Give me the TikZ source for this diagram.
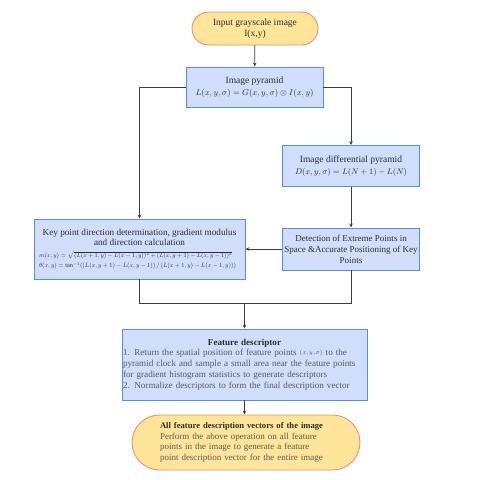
\documentclass[tikz,border=0pt]{standalone}
\usepackage{fontspec}
\setmainfont{Liberation Serif}
\usepackage{amsmath,amssymb}
\usepackage{graphicx}
\usetikzlibrary{positioning,arrows.meta,calc}
\definecolor{boxfill}{RGB}{208,222,252}
\definecolor{boxline}{RGB}{84,141,240}
\definecolor{ovalfill}{RGB}{255,229,153}
\definecolor{ovalline}{RGB}{242,140,120}
\definecolor{txtdark}{RGB}{45,45,45}
\definecolor{txtgray}{RGB}{90,90,90}
\definecolor{flowline}{RGB}{60,60,60}

\begin{document}
\begin{tikzpicture}[
    x=1pt, y=-1pt,
    stepbox/.style={draw=boxline, fill=boxfill, line width=0.9pt, align=center, inner sep=2pt, text=txtdark, font=\fontsize{9.5}{11}\selectfont},
    terminal/.style={draw=ovalline, fill=ovalfill, line width=0.9pt, align=center, inner sep=2pt, text=txtdark, font=\fontsize{9.5}{11}\selectfont},
    flow/.style={draw=flowline, line width=0.8pt},
    >={Stealth[length=4pt,width=3.5pt]}
  ]
  \useasboundingbox (0,0) rectangle (478,480);
  % start and pyramids
  \node[terminal, rounded corners=16.5pt, minimum width=126, minimum height=33] (input) at (255,28.5) {Input grayscale image\\I(x,y)};
  \node[stepbox, minimum width=137, minimum height=40] (pyramid) at (254.5,87) {Image pyramid\\[1pt] \resizebox{118pt}{!}{$L(x,y,\sigma)=G(x,y,\sigma)\otimes I(x,y)$}};
  \node[stepbox, minimum width=137, minimum height=41] (diffpyr) at (351,166) {Image differential pyramid\\[1pt] \resizebox{112pt}{!}{$D(x,y,\sigma)=L(N+1)-L(N)$}};
  \node[stepbox, minimum width=136, minimum height=42, font=\fontsize{9}{11}\selectfont] (detect) at (351,249) {Detection of Extreme Points in\\Space \&Accurate Positioning of Key\\Points};
  \node[stepbox, minimum width=211, minimum height=60, font=\fontsize{9.2}{10.5}\selectfont] (keypt) at (139.5,249) {%
    Key point direction determination, gradient modulus\\
    and direction calculation\\[1pt]
    \makebox[201pt][l]{\resizebox{193pt}{!}{$m(x,y)=\sqrt{(L(x+1,y)-L(x-1,y))^2+(L(x,y+1)-L(x,y-1))^2}$}}\\
    \makebox[201pt][l]{\resizebox{197pt}{!}{$\theta(x,y)=\tan^{-1}((L(x,y+1)-L(x,y-1))\,/\,(L(x+1,y)-L(x-1,y)))$}}};
  % descriptor and result
  \node[stepbox, minimum width=245, minimum height=71, text width=243, inner sep=1pt, align=left, font=\fontsize{9.1}{10.8}\selectfont, text=txtgray] (feature) at (244.5,364.5) {%
    \centerline{\textcolor{txtdark}{\bfseries Feature descriptor}}
    1. Return the spatial position of feature points \raisebox{1.5pt}{$\scriptstyle(x,y,\sigma)$} to the\\
    pyramid clock and sample a small area near the feature points\\
    for gradient histogram statistics to generate descriptors\\
    2. Normalize descriptors to form the final description vector};
  \node[terminal, rounded corners=27.5pt, minimum width=228, minimum height=55, text width=172, align=left, font=\fontsize{9}{10.8}\selectfont, text=txtgray] (output) at (246,442.5) {%
    \textcolor{txtdark}{\fontsize{8.6}{10.8}\selectfont\bfseries All feature description vectors of the image}\\
    Perform the above operation on all feature\\
    points in the image to generate a feature\\
    point description vector for the entire image};
  \coordinate (merge) at ($(feature.north)+(0,-25)$);
  \draw[flow, ->] (input) -- (pyramid);
  \draw[flow, ->] (pyramid.west) -| (keypt.north);
  \draw[flow, ->] (pyramid.east) -| (diffpyr.north);
  \draw[flow, ->] (diffpyr) -- (detect);
  \draw[flow, ->] (detect) -- (keypt);
  \draw[flow] (keypt.south) |- (merge) -| (detect.south);
  \draw[flow, ->] (merge) -- (feature);
  \draw[flow, ->] (feature) -- (output.north -| feature.south);
\end{tikzpicture}
\end{document}
